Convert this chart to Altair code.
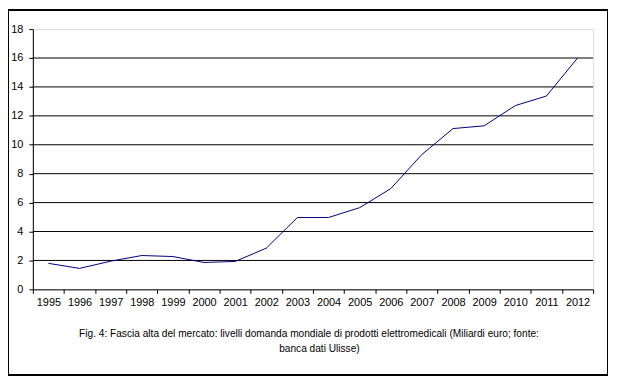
import altair as alt
import pandas as pd

years = [str(y) for y in range(1995, 2013)]
values = [1.8, 1.45, 1.95, 2.34, 2.27, 1.86, 1.93, 2.85, 4.97, 4.97,
          5.65, 6.97, 9.33, 11.12, 11.31, 12.71, 13.37, 16.0]
grid_values = [2, 4, 6, 8, 10, 12, 14, 16]
y_ticks = [0, 2, 4, 6, 8, 10, 12, 14, 16, 18]
caption = ["Fig. 4: Fascia alta del mercato: livelli domanda mondiale di prodotti elettromedicali (Miliardi euro; fonte:",
           "banca dati Ulisse)"]

df = pd.DataFrame({"anno": years, "valore": values})
gdf = pd.DataFrame({"g": grid_values})
cdf = pd.DataFrame({"t": caption, "i": [0, 1]})

FONT = "Liberation Sans"
W, H = 564, 262
PL, PT, PR, PB = 25, 20, 16, 88

x_enc = alt.X("anno:O", sort=years,
              scale=alt.Scale(type="band", paddingInner=0, paddingOuter=0),
              axis=alt.Axis(title=None, labelAngle=0, tickBand="extent",
                            domainColor="black", tickColor="black", tickSize=4,
                            labelColor="black", labelFont=FONT, labelFontSize=11,
                            labelPadding=3, grid=False, labelOverlap=False))
y_scale = alt.Scale(domain=[0, 18], nice=False)
y_axis = alt.Axis(title=None, values=y_ticks, grid=False,
                  domainColor="black", tickColor="black", tickSize=4,
                  labelColor="black", labelFont=FONT, labelFontSize=11,
                  labelPadding=6, labelOverlap=False, labelFlush=False)

grid = alt.Chart(gdf).mark_rule(color="black", strokeWidth=1).encode(
    y=alt.Y("g:Q", scale=y_scale, axis=y_axis)
)

line = alt.Chart(df).mark_line(color="#000080", strokeWidth=1).encode(
    x=x_enc,
    y=alt.Y("valore:Q", scale=y_scale, axis=y_axis),
)

border = alt.Chart(df).mark_rect(filled=False, stroke="black", strokeWidth=1).encode(
    x=alt.value(-PL + 0.5), x2=alt.value(W + PR - 1.5),
    y=alt.value(-PT + 0.5), y2=alt.value(H + PB - 1.5),
)

cap1 = alt.Chart(cdf).transform_filter(alt.datum.i == 0).mark_text(
    font=FONT, fontSize=10.2, color="black", align="center", baseline="middle"
).encode(text="t:N", x=alt.value(311 - 8 - PL), y=alt.value(335 - 8 - PT))

cap2 = alt.Chart(cdf).transform_filter(alt.datum.i == 1).mark_text(
    font=FONT, fontSize=10.2, color="black", align="center", baseline="middle"
).encode(text="t:N", x=alt.value(321.5 - 8 - PL), y=alt.value(350 - 8 - PT))

chart = alt.layer(grid, line, border, cap1, cap2).properties(
    width=W, height=H,
    autosize=alt.AutoSizeParams(type="none"),
    padding={"left": PL, "top": PT, "right": PR, "bottom": PB},
).configure_view(stroke="#808080", strokeWidth=1).configure(background="white")

chart.save("out.html", embed_options={"renderer": "svg", "actions": False})
